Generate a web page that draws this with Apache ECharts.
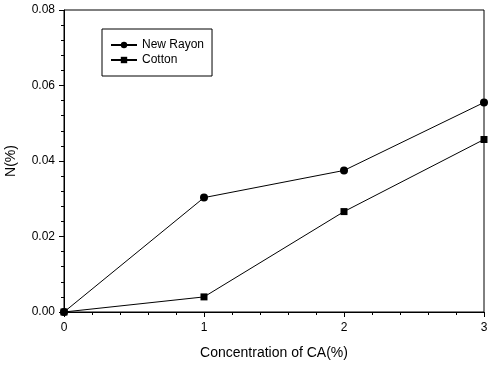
<!DOCTYPE html>
<html><head><meta charset="utf-8">
<script src="https://cdn.jsdelivr.net/npm/echarts@6/dist/echarts.min.js"></script>
<style>html,body{margin:0;padding:0;background:#fff}#c{width:495px;height:366px}</style>
</head><body><div id="c"></div>
<script>
const xValues = [0, 1, 2, 3];
const newRayon = [0.0, 0.0303, 0.0375, 0.0555];
const cotton = [0.0, 0.0040, 0.0266, 0.0457];
const seriesNames = ['New Rayon', 'Cotton'];
const xTitle = 'Concentration of CA(%)';
const yTitle = 'N(%)';

const font = 'Liberation Sans, Arial, sans-serif';
const chart = echarts.init(document.getElementById('c'), null, {renderer: 'canvas'});
const pair = (arr) => xValues.map((x, i) => [x, arr[i]]);
chart.setOption({
  animation: false,
  backgroundColor: '#fff',
  textStyle: {fontFamily: font},
  grid: {left: 64, right: 11, top: 10, bottom: 54, outerBoundsMode: 'none', containLabel: false,
         show: true, borderColor: '#000', borderWidth: 1, backgroundColor: 'transparent'},
  legend: {
    orient: 'vertical', left: 102, top: 29,
    borderColor: '#000', borderWidth: 1, padding: [9, 8, 9, 8],
    itemWidth: 26, itemHeight: 8, itemGap: 1,
    textStyle: {fontFamily: font, fontSize: 12, color: '#000', lineHeight: 14},
    data: seriesNames
  },
  xAxis: {
    type: 'value', min: 0, max: 3, interval: 1,
    name: xTitle, nameLocation: 'middle', nameGap: 34,
    nameTextStyle: {fontFamily: font, fontSize: 14, color: '#000'},
    axisLine: {show: true, lineStyle: {color: '#000', width: 1}},
    axisTick: {show: true, inside: false, length: 5, lineStyle: {color: '#000'}},
    minorTick: {show: true, splitNumber: 5, length: 3, lineStyle: {color: '#000'}},
    axisLabel: {color: '#000', fontSize: 12, margin: 10, fontFamily: font},
    splitLine: {show: false}
  },
  yAxis: {
    type: 'value', min: 0, max: 0.08, interval: 0.02,
    name: yTitle, nameLocation: 'middle', nameGap: 46,
    nameTextStyle: {fontFamily: font, fontSize: 14, color: '#000'},
    axisLine: {show: true, lineStyle: {color: '#000', width: 1}},
    axisTick: {show: true, inside: false, length: 5, lineStyle: {color: '#000'}},
    minorTick: {show: true, splitNumber: 5, length: 3, lineStyle: {color: '#000'}},
    axisLabel: {color: '#000', fontSize: 12, margin: 9, fontFamily: font, formatter: v => v.toFixed(2)},
    splitLine: {show: false}
  },
  series: [
    {name: seriesNames[0], type: 'line', data: pair(newRayon), symbol: 'circle', symbolSize: 8, clip: false,
     itemStyle: {color: '#000'}, lineStyle: {color: '#000', width: 1}},
    {name: seriesNames[1], type: 'line', data: pair(cotton), symbol: 'rect', symbolSize: 7, clip: false,
     itemStyle: {color: '#000'}, lineStyle: {color: '#000', width: 1}}
  ]
});
</script></body></html>
